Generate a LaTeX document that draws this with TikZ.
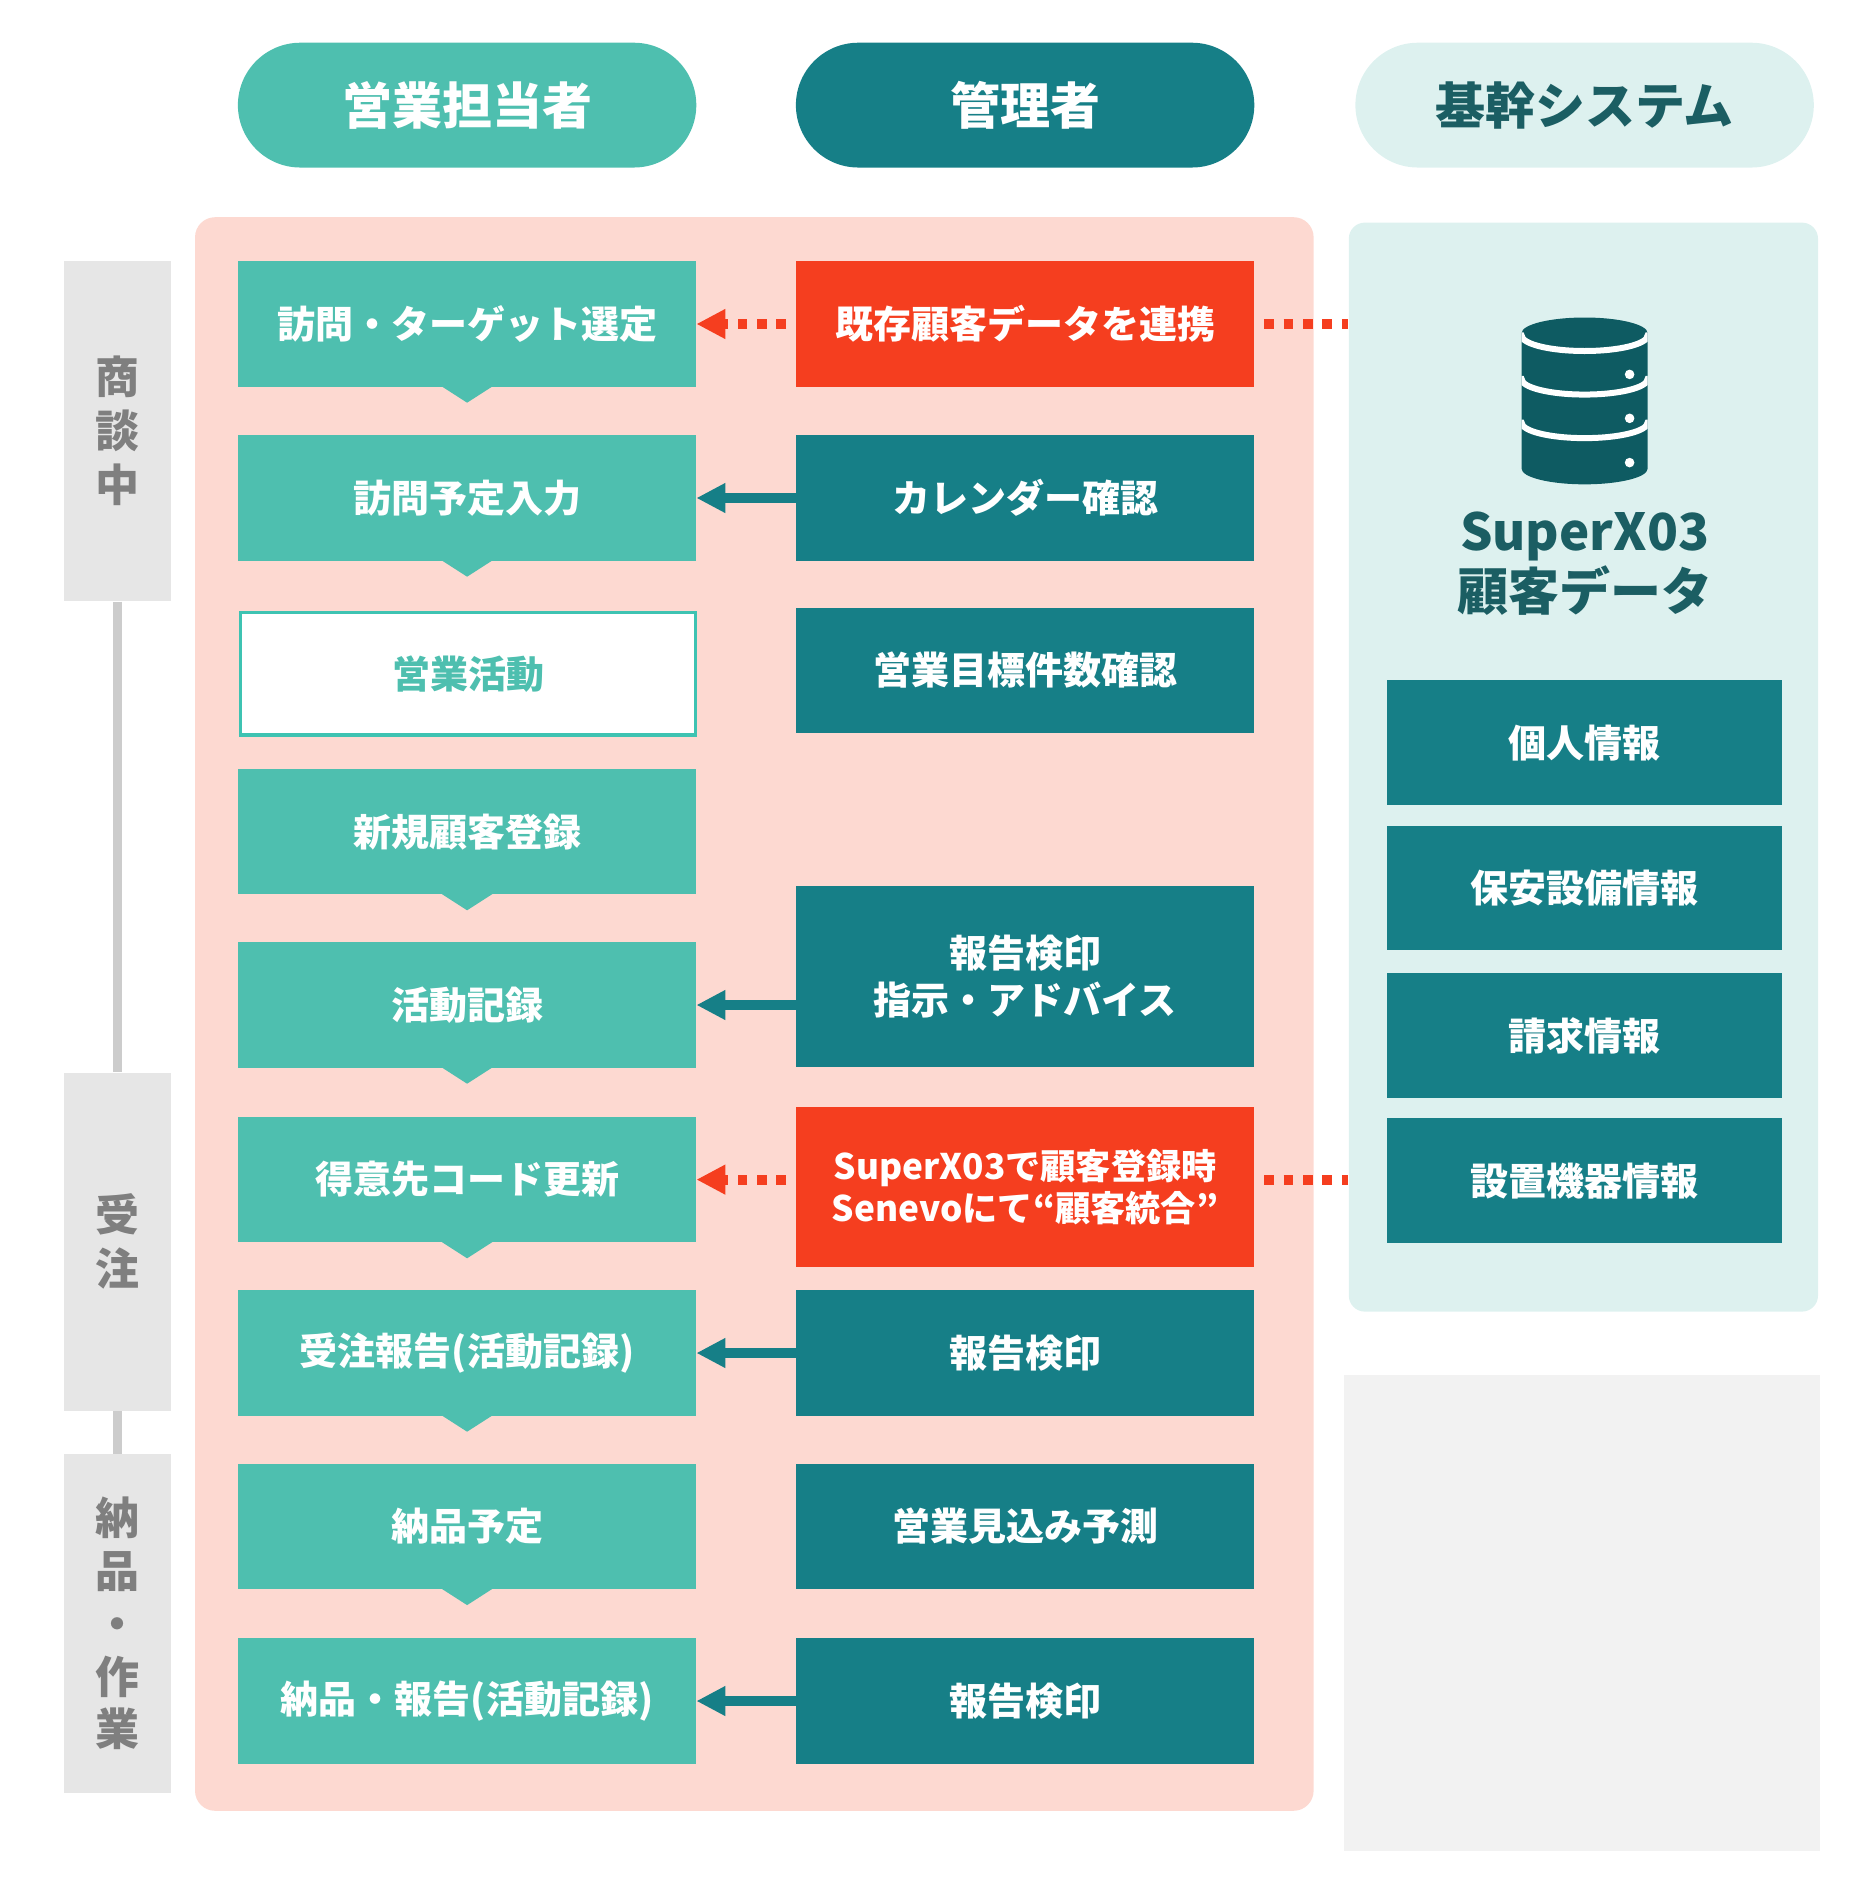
\documentclass[tikz,border=0pt]{standalone}
\usepackage{fontspec}
\setmainfont{Noto Sans CJK JP}
\usetikzlibrary{arrows.meta,calc}
\definecolor{lteal}{HTML}{4EBFAF}
\definecolor{dteal}{HTML}{167F87}
\definecolor{jred}{HTML}{F53E1F}
\definecolor{pinkbg}{HTML}{FDD9D1}
\definecolor{cyanbg}{HTML}{DDF1EF}
\definecolor{lblgray}{HTML}{E6E6E6}
\definecolor{txtgray}{HTML}{7F7F7F}
\definecolor{lngray}{HTML}{CCCCCC}
\definecolor{bxgray}{HTML}{F2F2F2}
\definecolor{dbteal}{HTML}{0E5B62}
\definecolor{systext}{HTML}{1B5E63}
\definecolor{actborder}{HTML}{3EC3B2}
\begin{document}
\begin{tikzpicture}[x=0.6pt,y=-0.6pt,
  box/.style={minimum width=228.9pt, minimum height=62.7pt, inner sep=0pt, align=center, text=white, font=\bfseries\fontsize{19pt}{23.4pt}\selectfont},
  lbox/.style={box, fill=lteal},
  mbox/.style={box, fill=dteal},
  rbox/.style={box, fill=jred},
  sbox/.style={box, fill=dteal, minimum width=197.4pt, minimum height=62.4pt},
  pill/.style={rounded corners=31.2pt, minimum width=229.2pt, minimum height=62.4pt, inner sep=0pt, font=\bfseries\fontsize{25pt}{30pt}\selectfont},
  phase/.style={fill=lblgray, minimum width=53.4pt, inner sep=0pt, align=center, text=txtgray, font=\bfseries\fontsize{22pt}{27pt}\selectfont},
  flow/.style={draw=dteal, line width=5pt, -{Triangle[length=14.5pt,width=14pt]}},
  link/.style={draw=jred, line width=5pt, dash pattern=on 4.8pt off 4.9pt, shorten <=4.9pt},
  linkarrow/.style={link, -{Triangle[length=14.5pt,width=14pt]}},
  phaseline/.style={draw=lngray, line width=4.5pt},
  notchfill/.style={fill=lteal},
]
\useasboundingbox (0,0) rectangle (1558.33,1566.67);

% headers
\node[pill, fill=lteal, text=white] (h1) at (389.25,87.6) {営業担当者};
\node[pill, fill=dteal, text=white] (h2) at (854.25,87.6) {管理者};
\node[pill, fill=cyanbg, text=systext] (h3) at (1320.5,87.6) {基幹システム};

% containers
\node[fill=pinkbg, rounded corners=10pt, minimum width=559.3pt, minimum height=796.8pt, inner sep=0pt] (pnk) at (628.6,845) {};
\node[fill=cyanbg, rounded corners=8pt, minimum width=234.6pt, minimum height=544.5pt, inner sep=0pt] (sys) at (1319.5,639.25) {};
\node[fill=bxgray, minimum width=238.2pt, minimum height=238.3pt, inner sep=0pt] (gry) at (1318.5,1344) {};

% phases
\node[phase, minimum height=170.1pt] (ph1) at (98.2,359.25) {商\\談\\中};
\node[phase, minimum height=169pt] (ph2) at (98.2,1034.8) {受\\注};
\node[phase, minimum height=169.4pt, font=\bfseries\fontsize{22pt}{26.4pt}\selectfont] (ph3) at (98.2,1352.9) {納\\品\\・\\作\\業};
\draw[phaseline] (ph1.south) -- (ph2.north);
\draw[phaseline] (ph2.south) -- (ph3.north);

% left column
\node[lbox] (l1) at (389.25,270) {訪問・ターゲット選定};
\node[lbox] (l2) at (389.25,415) {訪問予定入力};
\node[box, fill=white, draw=actborder, line width=1.8pt, text=lteal, minimum width=227.4pt, minimum height=61.2pt] (l3) at (390,561.5) {営業活動};
\node[lbox] (l4) at (389.25,693) {新規顧客登録};
\node[lbox] (l5) at (389.25,837.5) {活動記録};
\node[lbox] (l6) at (389.25,983) {得意先コード更新};
\node[lbox] (l7) at (389.25,1127.5) {受注報告(活動記録)};
\node[lbox] (l8) at (389.25,1272) {納品予定};
\node[lbox] (l9) at (389.25,1417.5) {納品・報告(活動記録)};
\foreach \n in {l1,l2,l4,l5,l6,l7,l8}{
  \fill[notchfill] ($(\n.south)+(-21,-0.5)$) -- ($(\n.south)+(0,13)$) -- ($(\n.south)+(21,-0.5)$) -- cycle;
}

% middle column
\node[rbox] (m1) at (854.25,270) {既存顧客データを連携};
\node[mbox] (m2) at (854.25,415) {カレンダー確認};
\node[mbox] (m3) at (854.25,558.5) {営業目標件数確認};
\node[mbox, minimum height=90.6pt] (m4) at (854.25,814) {報告検印\\指示・アドバイス};
\node[rbox, minimum height=79.8pt, font=\bfseries\fontsize{17.6pt}{21pt}\selectfont] (m5) at (854.25,989) {SuperX03で顧客登録時\\Senevoにて“顧客統合”};
\node[mbox] (m6) at (854.25,1127.5) {報告検印};
\node[mbox] (m7) at (854.25,1272) {営業見込み予測};
\node[mbox] (m8) at (854.25,1417.5) {報告検印};

% system column
\node[sbox] (s1) at (1320.5,619) {個人情報};
\node[sbox] (s2) at (1320.5,740) {保安設備情報};
\node[sbox] (s3) at (1320.5,863) {請求情報};
\node[sbox] (s4) at (1320.5,984) {設置機器情報};

% database icon
\def\dbbody{(1268,277.6) -- (1268,390.6) arc[start angle=180,end angle=360,x radius=31.5pt,y radius=7.8pt] -- (1373,277.6) arc[start angle=0,end angle=180,x radius=31.5pt,y radius=7.8pt] -- cycle}
\fill[dbteal] \dbbody;
\begin{scope}
  \clip \dbbody;
  \foreach \yy in {279.5,315.8,352.1}{
    \draw[white, line width=3pt] (1260,\yy) -- (1268,\yy) arc[start angle=180,end angle=360,x radius=31.5pt,y radius=7.8pt] -- (1381,\yy);
  }
\end{scope}
\foreach \yy in {312,348.6,385.5}{
  \fill[white] (1358,\yy) circle[radius=2.4pt];
}
\node[text=systext, align=center, inner sep=0pt, font=\bfseries\fontsize{25.5pt}{30pt}\selectfont] (dbname) at (1320.5,470) {SuperX03\\顧客データ};

% connectors
\draw[linkarrow] (m1.west) -- (l1.east);
\draw[link] (m1.east) -- (m1.east -| sys.west);
\draw[flow] (m2.west) -- (l2.east);
\draw[flow] (m4.west |- l5.east) -- (l5.east);
\draw[linkarrow] (m5.west |- l6.east) -- (l6.east);
\draw[link] (m5.east |- l6.east) -- (l6.east -| sys.west);
\draw[flow] (m6.west) -- (l7.east);
\draw[flow] (m8.west) -- (l9.east);
\end{tikzpicture}
\end{document}
